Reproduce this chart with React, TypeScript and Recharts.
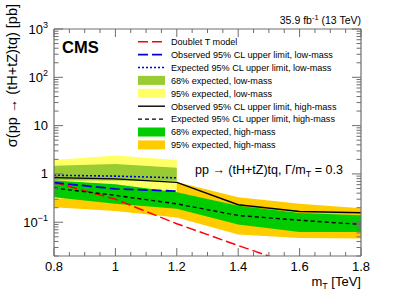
import React from 'react';
import { ComposedChart, Area, Line, XAxis, YAxis } from 'recharts';

// ---- data ----
const masses = [0.8, 1.0, 1.2, 1.4, 1.6, 1.8];
const doubletT = [0.67, 0.3, 0.093, 0.033, 0.012, 0.0045];
const obsHigh = [0.84, 0.79, 0.67, 0.23, 0.167, 0.157];
const expHigh = [0.51, 0.36, 0.24, 0.138, 0.11, 0.09];
const high68Lo = [0.33, 0.24, 0.19, 0.09, 0.063, 0.063];
const high68Hi = [0.73, 0.61, 0.42, 0.22, 0.155, 0.14];
const high95Lo = [0.205, 0.17, 0.125, 0.056, 0.047, 0.046];
const high95Hi = [1.0, 0.85, 0.68, 0.33, 0.24, 0.195];

const lowMasses = [0.8, 1.0, 1.2];
const obsLow = [0.66, 0.49, 0.44];
const expLow = [0.94, 0.9, 0.83];
const low68Lo = [0.73, 0.73, 0.72];
const low68Hi = [1.48, 1.6, 1.35];
const low95Lo = [0.3, 0.38, 0.42];
const low95Hi = [1.95, 2.4, 1.95];

const xTicks = [0.8, 0.85, 0.9, 0.95, 1.0, 1.05, 1.1, 1.15, 1.2, 1.25, 1.3, 1.35, 1.4, 1.45, 1.5, 1.55, 1.6, 1.65, 1.7, 1.75, 1.8];
const yTicks = [
  0.02, 0.03, 0.04, 0.05, 0.06, 0.07, 0.08, 0.09,
  0.1, 0.2, 0.3, 0.4, 0.5, 0.6, 0.7, 0.8, 0.9,
  1, 2, 3, 4, 5, 6, 7, 8, 9,
  10, 20, 30, 40, 50, 60, 70, 80, 90,
  100, 200, 300, 400, 500, 600, 700, 800, 900,
  1000,
];

const rows = masses.map((m, i) => {
  const j = lowMasses.indexOf(m);
  const r: any = {
    m,
    doublet: doubletT[i],
    obsHigh: obsHigh[i],
    expHigh: expHigh[i],
    band68High: [high68Lo[i], high68Hi[i]],
    band95High: [high95Lo[i], high95Hi[i]],
  };
  if (j >= 0) {
    r.obsLow = obsLow[j];
    r.expLow = expLow[j];
    r.band68Low = [low68Lo[j], low68Hi[j]];
    r.band95Low = [low95Lo[j], low95Hi[j]];
  }
  return r;
});

const FONT = '"Liberation Sans", Arial, Helvetica, sans-serif';
const FRAME = '#6e6e6e';

const isMajorX = (v: number) => Math.abs(v * 5 - Math.round(v * 5)) < 1e-6;
const isMajorY = (v: number) => Math.abs(Math.log10(v) - Math.round(Math.log10(v))) < 1e-6;
const fmtX = (v: number) => String(Math.round(v * 10) / 10);

const yLabel = (v: number) => {
  const e = Math.round(Math.log10(v));
  if (e === 0) return <>1</>;
  if (e === 1) return <>10</>;
  return (
    <>
      10<tspan dy={-6} fontSize={9}>{e < 0 ? '\u2212' + Math.abs(e) : String(e)}</tspan>
    </>
  );
};

const XTickBottom = (p: any) => {
  const { x, y, payload } = p;
  const major = isMajorX(payload.value);
  return (
    <g>
      <line x1={x} y1={y} x2={x} y2={y - (major ? 8 : 4)} stroke={FRAME} />
      {major && (
        <text x={x} y={y + 15} textAnchor="middle" fontSize={13} fill="#000" fontFamily={FONT}>
          {fmtX(payload.value)}
        </text>
      )}
    </g>
  );
};
const XTickTop = (p: any) => {
  const { x, y, payload } = p;
  const major = isMajorX(payload.value);
  return <line x1={x} y1={y} x2={x} y2={y + (major ? 8 : 4)} stroke={FRAME} />;
};
const YTickLeft = (p: any) => {
  const { x, y, payload } = p;
  const major = isMajorY(payload.value);
  return (
    <g>
      <line x1={x} y1={y} x2={x + (major ? 9 : 4.5)} y2={y} stroke={FRAME} />
      {major && (
        <text x={x - 6} y={y + 4.5} textAnchor="end" fontSize={13} fill="#000" fontFamily={FONT}>
          {yLabel(payload.value)}
        </text>
      )}
    </g>
  );
};
const YTickRight = (p: any) => {
  const { x, y, payload } = p;
  const major = isMajorY(payload.value);
  return <line x1={x} y1={y} x2={x - (major ? 9 : 4.5)} y2={y} stroke={FRAME} />;
};

const legendItems = [
  { kind: 'line', color: '#ff0000', dash: '10,4', w: 1.5, label: 'Doublet T model' },
  { kind: 'line', color: '#0000dd', dash: '10,4', w: 1.8, label: 'Observed 95% CL upper limit, low-mass' },
  { kind: 'line', color: '#0000dd', dash: '2,2', w: 1.6, label: 'Expected 95% CL upper limit, low-mass' },
  { kind: 'box', color: '#99cc33', label: '68% expected, low-mass' },
  { kind: 'box', color: '#ffff66', label: '95% expected, low-mass' },
  { kind: 'line', color: '#000000', dash: undefined, w: 1.4, label: 'Observed 95% CL upper limit, high-mass' },
  { kind: 'line', color: '#000000', dash: '4,3', w: 1.4, label: 'Expected 95% CL upper limit, high-mass' },
  { kind: 'box', color: '#00cc00', label: '68% expected, high-mass' },
  { kind: 'box', color: '#ffcc00', label: '95% expected, high-mass' },
];

export default function App() {
  return (
    <div style={{ position: 'absolute', left: 0, top: 0, width: 407, height: 292, background: '#fff' }}>
      <ComposedChart
        width={407}
        height={292}
        data={rows}
        margin={{ top: 28, right: 45, bottom: 35, left: 53 }}
      >
        <XAxis
          dataKey="m"
          type="number"
          domain={[0.8, 1.8]}
          allowDataOverflow
          ticks={xTicks}
          interval={0}
          height={1}
          tickSize={0}
          tickMargin={0}
          tickLine={false}
          axisLine={{ stroke: FRAME, strokeWidth: 1.2 }}
          tick={XTickBottom}
        />
        <XAxis
          xAxisId="top"
          orientation="top"
          dataKey="m"
          type="number"
          domain={[0.8, 1.8]}
          allowDataOverflow
          ticks={xTicks}
          interval={0}
          height={1}
          tickSize={0}
          tickMargin={0}
          tickLine={false}
          axisLine={{ stroke: FRAME, strokeWidth: 1.2 }}
          tick={XTickTop}
        />
        <YAxis
          type="number"
          scale="log"
          domain={[0.02, 1000]}
          allowDataOverflow
          ticks={yTicks}
          interval={0}
          width={1}
          tickSize={0}
          tickMargin={0}
          tickLine={false}
          axisLine={{ stroke: FRAME, strokeWidth: 1.2 }}
          tick={YTickLeft}
        />
        <YAxis
          yAxisId="right"
          orientation="right"
          type="number"
          scale="log"
          domain={[0.02, 1000]}
          allowDataOverflow
          ticks={yTicks}
          interval={0}
          width={1}
          tickSize={0}
          tickMargin={0}
          tickLine={false}
          axisLine={{ stroke: FRAME, strokeWidth: 1.2 }}
          tick={YTickRight}
        />
        <Area dataKey="band95High" stroke="none" fill="#ffcc00" fillOpacity={1} isAnimationActive={false} />
        <Area dataKey="band95Low" stroke="none" fill="#ffff66" fillOpacity={1} isAnimationActive={false} />
        <Area dataKey="band68Low" stroke="none" fill="#99cc33" fillOpacity={1} isAnimationActive={false} />
        <Area dataKey="band68High" stroke="none" fill="#00cc00" fillOpacity={1} isAnimationActive={false} />
        <Line dataKey="doublet" stroke="#ff0000" strokeWidth={1.5} strokeDasharray="10,4" dot={false} isAnimationActive={false} />
        <Line dataKey="obsLow" stroke="#0000dd" strokeWidth={1.8} strokeDasharray="10,4" dot={false} isAnimationActive={false} />
        <Line dataKey="expLow" stroke="#0000dd" strokeWidth={1.6} strokeDasharray="2,2" dot={false} isAnimationActive={false} />
        <Line dataKey="obsHigh" stroke="#000" strokeWidth={1.4} dot={false} isAnimationActive={false} />
        <Line dataKey="expHigh" stroke="#000" strokeWidth={1.4} strokeDasharray="4,3" dot={false} isAnimationActive={false} />
      </ComposedChart>
      <svg width={407} height={292} style={{ position: 'absolute', left: 0, top: 0, pointerEvents: 'none' }}>
        <text x={62} y={53} fontSize={16.5} fontWeight="bold" fontFamily={FONT} fill="#000">CMS</text>
        <text x={361} y={24} textAnchor="end" fontSize={10.5} fontFamily={FONT} fill="#000">
          35.9 fb<tspan dy={-4} fontSize={7.5}>-1</tspan><tspan dy={4} fontSize={10.5}> (13 TeV)</tspan>
        </text>
        {legendItems.map((it, i) => {
          const cy = 41.7 + i * 12.9;
          return (
            <g key={i}>
              {it.kind === 'box' ? (
                <rect x={138} y={cy - 4.5} width={27} height={9} fill={it.color} />
              ) : (
                <line x1={138} y1={cy} x2={165} y2={cy} stroke={it.color} strokeWidth={it.w} strokeDasharray={it.dash} />
              )}
              <text x={171} y={cy + 3.3} fontSize={9.1} fontFamily={FONT} fill="#000">{it.label}</text>
            </g>
          );
        })}
        <text x={195} y={174} fontSize={12.5} fontFamily={FONT} fill="#000">
          pp {'\u2192'} (tH+tZ)tq, {'\u0393'}/m<tspan dy={3} fontSize={9}>T</tspan><tspan dy={-3} fontSize={12.5}> = 0.3</tspan>
        </text>
        <text x={361} y={286} textAnchor="end" fontSize={13} fontFamily={FONT} fill="#000">
          m<tspan dy={3} fontSize={9}>T</tspan><tspan dy={-3} fontSize={13}> [TeV]</tspan>
        </text>
        <text
          x={17}
          y={4}
          transform="rotate(-90 17 4)"
          textAnchor="end"
          fontSize={14.5}
          fontFamily={FONT}
          fill="#000"
        >
          {'\u03C3'}(pp {'\u2192'} (tH+tZ)tq) [pb]
        </text>
      </svg>
    </div>
  );
}
